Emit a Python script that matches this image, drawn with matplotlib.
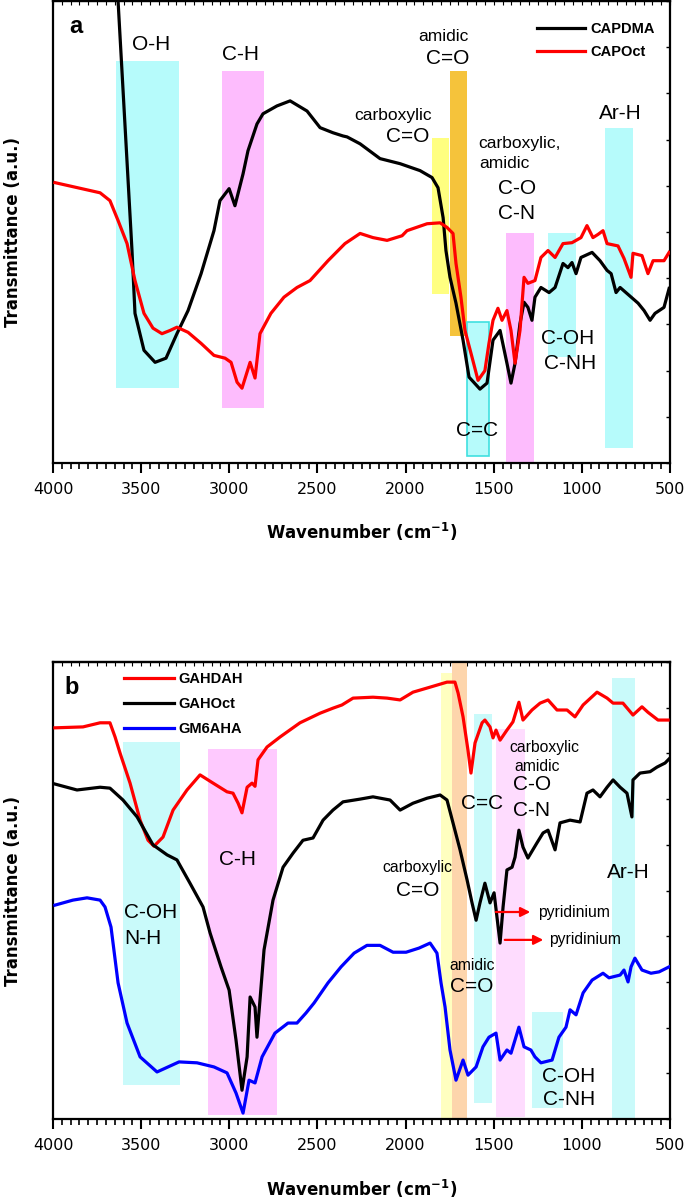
import matplotlib
matplotlib.use('Agg')
import matplotlib.pyplot as plt
from matplotlib.ticker import MultipleLocator
from matplotlib.patches import Rectangle

# ---- panel a : CAPDMA / CAPOct ----
capdma_wn = [3650, 3552, 3535, 3484, 3421, 3359, 3297, 3234, 3160, 3087, 3053, 3001, 2968, 2922, 2894,
             2843, 2809, 2730, 2655, 2559, 2485, 2412, 2355, 2332, 2258, 2145, 2031, 1918, 1850, 1816,
             1787, 1771, 1748, 1714, 1674, 1640, 1578, 1538, 1504, 1464, 1425, 1402, 1379, 1351, 1328,
             1306, 1283, 1266, 1232, 1186, 1152, 1107, 1079, 1056, 1033, 1005, 942, 897, 857, 834, 806,
             783, 732, 681, 647, 613, 585, 534, 505]
capdma_t = [113, 46, 32.4, 24.4, 21.8, 22.7, 28, 33, 41, 50.3, 56.8, 59.4, 55.7, 62.6, 67.6,
            73.4, 75.6, 77.3, 78.4, 76.2, 72.6, 71.5, 70.8, 70.6, 69.1, 65.9, 64.8, 63.3, 61.8, 59.6,
            53.1, 46, 40.2, 34.6, 26.6, 18.6, 16, 17.3, 26.6, 28.7, 21.6, 17.3, 21.6, 30.2, 34.8,
            33.7, 30.9, 35.9, 38, 36.9, 38, 43.2, 42.3, 43.4, 41, 44.5, 45.6, 43.8, 41.7, 41, 36.9,
            38, 36.3, 34.6, 33, 30.9, 32.4, 33.7, 37.8]

capoct_wn = [3989, 3733, 3677, 3631, 3580, 3535, 3484, 3433, 3382, 3336, 3297, 3234, 3160, 3087, 3024,
             2990, 2956, 2928, 2882, 2854, 2826, 2764, 2690, 2616, 2542, 2440, 2344, 2258, 2185, 2105,
             2020, 1992, 1878, 1804, 1765, 1731, 1714, 1686, 1663, 1623, 1589, 1550, 1527, 1504, 1476,
             1453, 1425, 1402, 1379, 1351, 1328, 1306, 1266, 1232, 1192, 1152, 1107, 1056, 1005, 971,
             937, 908, 880, 857, 795, 761, 721, 710, 659, 625, 596, 534, 505]
capoct_t = [60.7, 58.5, 56.8, 52.5, 47.5, 39.5, 32.4, 29.2, 28, 28.7, 29.4, 28.3, 25.9, 23.3, 22.7,
            21.8, 17.5, 16.2, 21.8, 18.4, 28, 32.4, 35.9, 38, 39.5, 43.8, 47.5, 49.7, 48.8, 48.2,
            49.2, 50.3, 51.8, 52, 51, 49.7, 43.2, 35.9, 28.7, 22.9, 17.9, 20, 25.9, 30.9, 33.5,
            30.9, 33, 28.7, 21.6, 28.7, 40.2, 38.9, 39.5, 44.5, 46, 44.5, 47.5, 47.7, 48.8, 51.4,
            48.8, 49.5, 50.3, 47.5, 47, 44.3, 40.2, 45.4, 44.9, 41, 43.8, 43.8, 45.6]

# band ranges (wn high, wn low, bottom, top)
bands_a = [(3643, 3285, 16.2, 87.0), (3041, 2803, 11.9, 84.9), (1850, 1753, 36.5, 70.4),
           (1748, 1651, 27.4, 84.9), (1651, 1527, 1.5, 30.5), (1430, 1271, 0.2, 49.9),
           (1192, 1033, 22.9, 49.7), (869, 710, 3.2, 72.6)]
bandcol_a = ['#b6fbfb', '#fdbcfd', '#ffff80', '#f5c33b', '#b6fbfb', '#fdbcfd', '#b6fbfb', '#b6fbfb']

# ---- panel b : GAHDAH / GAHOct / GM6AHA ----
gahdah_wn = [3989, 3830, 3733, 3677, 3648, 3620, 3563, 3506, 3461, 3427, 3376, 3319, 3240, 3166, 3092,
             3013, 2979, 2950, 2928, 2899, 2871, 2854, 2837, 2786, 2712, 2599, 2485, 2412, 2361, 2298,
             2185, 2105, 2031, 1958, 1861, 1765, 1720, 1702, 1674, 1646, 1629, 1606, 1566, 1550, 1521,
             1504, 1487, 1464, 1425, 1391, 1357, 1334, 1283, 1237, 1192, 1141, 1084, 1039, 993, 914,
             857, 823, 767, 710, 659, 625, 568, 511]
gahdah_t = [85.6, 85.8, 86.7, 86.7, 83.6, 80.1, 73.5, 65.4, 61, 59.7, 61.7, 67.6, 72, 75.3, 73.5,
            71.6, 71.3, 69.1, 67, 72.6, 73.5, 72.8, 78.6, 81.4, 83.6, 86.7, 88.8, 89.9, 90.6, 92.1,
            92.3, 92.1, 91.7, 93.4, 94.5, 95.6, 95.6, 93.2, 88, 80.7, 75.7, 82.3, 86.7, 87.3, 85.8,
            83.4, 85.1, 82.9, 85.1, 86.9, 91.2, 87.3, 89.5, 91, 91.7, 89.5, 89.5, 88, 90.6, 93.4,
            92.1, 91, 91, 88.4, 90.2, 89, 87.3, 87.3]

gahoct_wn = [3989, 3864, 3733, 3677, 3603, 3523, 3433, 3353, 3297, 3223, 3149, 3109, 3047, 3001, 2962,
             2928, 2899, 2882, 2854, 2843, 2826, 2803, 2752, 2695, 2638, 2582, 2525, 2468, 2412, 2355,
             2258, 2185, 2088, 2031, 1958, 1878, 1804, 1765, 1731, 1691, 1651, 1623, 1600, 1578, 1550,
             1521, 1498, 1464, 1447, 1425, 1396, 1379, 1357, 1334, 1306, 1255, 1220, 1192, 1152, 1124,
             1067, 1010, 971, 937, 897, 857, 823, 783, 744, 716, 710, 670, 613, 574, 528, 500]
gahoct_t = [73.3, 72, 72.6, 72.4, 69.8, 66.1, 60, 57.8, 56.7, 51.6, 46.4, 40.7, 33.3, 28.2, 17.3,
            6.3, 13.6, 26.7, 24.5, 17.9, 26, 37, 47.9, 55.1, 58.2, 61, 61.5, 65.4, 67.6, 69.4,
            70, 70.5, 69.8, 67.6, 69.1, 70.2, 70.9, 69.8, 64.8, 58.9, 52.3, 47.3, 43.5, 47.3, 51.6,
            47.3, 49.5, 38.5, 46.4, 54.5, 55.1, 57.3, 63.2, 59.5, 57.1, 60.4, 62.6, 63.2, 58.9, 64.8,
            65.4, 65, 71.3, 72, 70.5, 72.6, 74.2, 72.6, 71.3, 66.1, 74.2, 75.7, 76, 77, 77.9, 79]

gm6aha_wn = [3989, 3887, 3807, 3733, 3705, 3671, 3631, 3580, 3506, 3410, 3285, 3183, 3087, 3013, 2962,
             2922, 2888, 2854, 2814, 2741, 2667, 2616, 2565, 2519, 2440, 2366, 2292, 2219, 2145, 2071,
             1997, 1924, 1861, 1822, 1799, 1776, 1748, 1714, 1674, 1646, 1600, 1561, 1527, 1487, 1464,
             1425, 1402, 1357, 1328, 1289, 1266, 1232, 1169, 1130, 1090, 1067, 1033, 993, 942, 880,
             846, 783, 761, 738, 721, 699, 659, 608, 562, 505]
gm6aha_t = [46.8, 47.9, 48.4, 47.9, 46.4, 42, 29.8, 21, 13.6, 10.3, 12.5, 12.3, 11.4, 10.1, 5.7,
            1.3, 8.5, 7.9, 13.6, 18.8, 21, 21, 23.2, 25.4, 29.8, 33.3, 36.3, 38, 38, 36.5,
            36.5, 37.4, 38.5, 36.3, 29.8, 24.5, 15.1, 8.5, 12.9, 9.6, 11.4, 15.8, 17.9, 18.8, 12.9,
            15.1, 14.4, 20.1, 15.8, 15.1, 13.6, 12.3, 12.9, 17.9, 20.1, 23.9, 22.8, 27.6, 30.4, 31.9,
            30.9, 31.5, 32.6, 30, 33.3, 35.2, 32.6, 31.9, 32.2, 33.3]

bands_b = [(3603, 3280, 7.4, 82.5), (3121, 2729, 0.9, 81.0), (1799, 1714, 0, 97.6),
           (1737, 1651, 0, 100), (1612, 1510, 3.5, 88.6), (1487, 1322, 0.4, 85.3),
           (1283, 1107, 2.4, 23.4), (829, 698, 0, 96.5)]
bandcol_b = ['#c9fafa', '#fec9fe', '#ffffc0', '#fdd5ac', '#c9fafa', '#fedcfe', '#c9fafa', '#c9fafa']

LBL = 'Liberation Sans'
AX = 'DejaVu Sans'


def band(ax, b, c, edge=None):
    r = Rectangle((b[1], b[2]), b[0] - b[1], b[3] - b[2], facecolor=c,
                  edgecolor=edge if edge else 'none', lw=1.2, zorder=1)
    ax.add_patch(r)


def big(ax, x, y, s, ha='center'):
    ax.text(x, y, s, fontsize=15, family=LBL, ha=ha, va='center', zorder=5)


def small(ax, x, y, s, size, ha='center'):
    ax.text(x, y, s, fontsize=size, family=LBL, ha=ha, va='center', zorder=5)


def setup(ax, xlab_y):
    ax.set_xlim(4000, 500)
    ax.set_ylim(0, 100)
    ax.xaxis.set_major_locator(MultipleLocator(500))
    ax.xaxis.set_minor_locator(MultipleLocator(50))
    ax.tick_params(axis='x', which='major', length=7, width=1.5, pad=7, labelsize=11.5)
    ax.tick_params(axis='x', which='minor', length=4, width=1.2)
    ax.tick_params(axis='y', left=False, labelleft=False, right=True, direction='in',
                   length=3, width=1.0)
    ax.yaxis.set_major_locator(MultipleLocator(10))
    # top spine: small inward ticks, no labels
    top = ax.secondary_xaxis('top')
    top.xaxis.set_major_locator(MultipleLocator(500))
    top.xaxis.set_minor_locator(MultipleLocator(50))
    top.tick_params(which='both', labeltop=False, direction='in', length=3, width=0.8)
    top.spines['top'].set_linewidth(1.6)
    for t in ax.get_xticklabels():
        t.set_family(AX)
    for s in ax.spines.values():
        s.set_linewidth(1.6)
    ax.set_xlabel('Wavenumber (cm$^{\\mathbf{-1}}$)', fontsize=12, fontweight='bold', family=AX)
    ax.xaxis.set_label_coords(0.5, xlab_y)
    ax.set_ylabel('Transmittance (a.u.)', fontsize=12, fontweight='bold', family=AX)
    ax.yaxis.set_label_coords(-0.05, 0.5)


fig = plt.figure(figsize=(6.85, 12.03), dpi=100)

# 面板 a
ax1 = fig.add_axes([0.0774, 0.6151, 0.9007, 0.384])
for i, b in enumerate(bands_a):
    band(ax1, b, bandcol_a[i], edge='#40e0e0' if i == 4 else None)
ax1.plot(capdma_wn, capdma_t, color='black', lw=2.3, label='CAPDMA', zorder=3)
ax1.plot(capoct_wn, capoct_t, color='red', lw=2.3, label='CAPOct', zorder=3)
setup(ax1, -0.125)
leg = ax1.legend(loc='upper left', bbox_to_anchor=(0.784, 0.955), frameon=False, borderpad=0,
                 borderaxespad=0, handlelength=3.3, handletextpad=0.35, labelspacing=0.65,
                 prop=dict(family=LBL, weight='bold', size=10.5))
ax1.text(3870, 94.6, 'a', fontsize=17, fontweight='bold', family=LBL, ha='center', va='center')
big(ax1, 3444, 90.7, 'O-H')
big(ax1, 2939, 88.5, 'C-H')
small(ax1, 2071, 75.2, 'carboxylic', 12.5)
big(ax1, 1986, 70.6, 'C=O')
small(ax1, 1787, 92.4, 'amidic', 12.5)
big(ax1, 1760, 87.5, 'C=O')
small(ax1, 1589, 69.1, 'carboxylic,', 12.5, ha='left')
small(ax1, 1583, 64.8, 'amidic', 12.5, ha='left')
big(ax1, 1368, 59.4, 'C-O')
big(ax1, 1368, 54.0, 'C-N')
big(ax1, 1079, 27.0, 'C-OH')
big(ax1, 1067, 21.6, 'C-NH')
big(ax1, 1594, 7.1, 'C=C')
big(ax1, 783, 75.6, 'Ar-H')

# 面板 b
ax2 = fig.add_axes([0.0774, 0.0698, 0.9007, 0.3799])
for i, b in enumerate(bands_b):
    band(ax2, b, bandcol_b[i])
ax2.plot(gahdah_wn, gahdah_t, color='red', lw=2.3, label='GAHDAH', zorder=3)
ax2.plot(gahoct_wn, gahoct_t, color='black', lw=2.3, label='GAHOct', zorder=3)
ax2.plot(gm6aha_wn, gm6aha_t, color='blue', lw=2.3, label='GM6AHA', zorder=3)
setup(ax2, -0.128)
ax2.legend(loc='upper left', bbox_to_anchor=(0.115, 0.978), frameon=False, borderpad=0,
           borderaxespad=0, handlelength=3.4, handletextpad=0.3, labelspacing=0.75,
           prop=dict(family=LBL, weight='bold', size=10.5))
ax2.text(3892, 94.5, 'b', fontsize=17, fontweight='bold', family=LBL, ha='center', va='center')
big(ax2, 3597, 45.3, 'C-OH', ha='left')
big(ax2, 3597, 39.6, 'N-H', ha='left')
big(ax2, 2951, 56.7, 'C-H')
small(ax2, 1935, 55.1, 'carboxylic', 11.3)
big(ax2, 1930, 50.1, 'C=O')
big(ax2, 1566, 69.1, 'C=C')
small(ax2, 1413, 81.4, 'carboxylic', 11.3, ha='left')
small(ax2, 1385, 77.2, 'amidic', 11.3, ha='left')
big(ax2, 1390, 73.1, 'C-O', ha='left')
big(ax2, 1390, 67.6, 'C-N', ha='left')
big(ax2, 738, 54.0, 'Ar-H')
small(ax2, 1623, 33.7, 'amidic', 11.3)
big(ax2, 1623, 28.9, 'C=O')
big(ax2, 1073, 9.2, 'C-OH')
big(ax2, 1073, 4.2, 'C-NH')
# pyridinium arrows
for (x0, x1, y, xt) in [(1504, 1277, 45.3, 1249), (1453, 1203, 39.2, 1186)]:
    ax2.annotate('', xy=(x1, y), xytext=(x0, y),
                 arrowprops=dict(arrowstyle='-|>', color='red', lw=1.6, mutation_scale=14),
                 zorder=4)
    small(ax2, xt, y, 'pyridinium', 11.3, ha='left')

plt.savefig('out.png', dpi=100)
plt.close()
